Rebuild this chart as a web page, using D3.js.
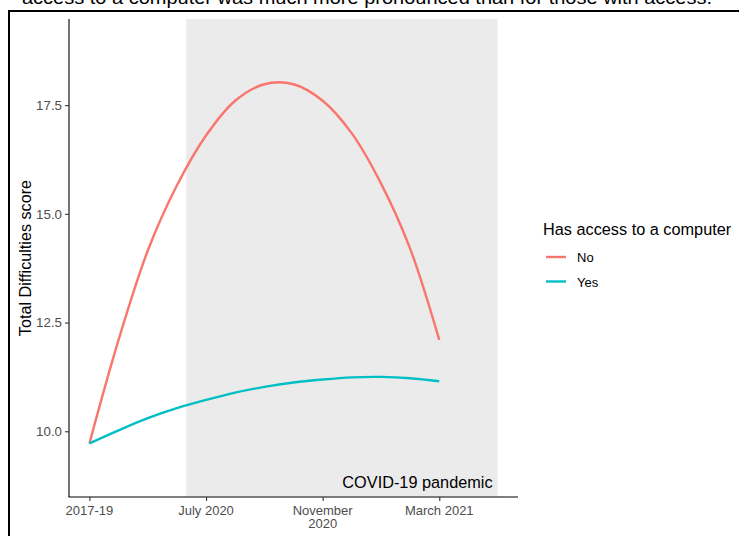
<!DOCTYPE html>
<html><head><meta charset="utf-8">
<script src="https://cdn.jsdelivr.net/npm/d3@7"></script>
<style>body{margin:0;background:#fff;} svg{display:block;font-family:"Liberation Sans",Arial,sans-serif;}</style>
</head><body>
<svg id="c" width="739" height="536"></svg>
<script>
const xPos = [0, 0.25, 0.5, 0.75, 1.0, 1.25, 1.5, 1.75, 2.0, 2.25, 2.5, 2.75, 3.0];
const seriesNo  = [9.72, 12.1, 14.15, 15.65, 16.8, 17.6, 17.98, 17.98, 17.6, 16.85, 15.7, 14.2, 12.1];
const seriesYes = [9.72, 10.02, 10.3, 10.53, 10.72, 10.89, 11.02, 11.12, 11.19, 11.24, 11.25, 11.22, 11.15];
const xTickVals = [0, 1, 2, 3];
const xTickLabels = [["2017-19"], ["July 2020"], ["November", "2020"], ["March 2021"]];
const yTickVals = [10.0, 12.5, 15.0, 17.5];
const pandemicRange = [0.83, 3.5];
const legendLabels = ["No", "Yes"];
const colors = ["#F8766D", "#00BFC4"];

const svg = d3.select("#c");
// caption cut off at top
svg.append("text").attr("x", 22).attr("y", 4).attr("font-size", 19)
  .attr("textLength", 690).attr("lengthAdjust", "spacingAndGlyphs").attr("fill", "#000")
  .text("access to a computer was much more pronounced than for those with access.");
// frame
svg.append("rect").attr("x", 9).attr("y", 11).attr("width", 740).attr("height", 540)
  .attr("fill", "none").attr("stroke", "#000").attr("stroke-width", 2);

const x = d3.scaleLinear().domain([-0.175, 3.675]).range([69, 518]);
const y = d3.scaleLinear().domain([8.5, 19.48]).range([496.5, 19]);

svg.append("rect").attr("x", x(pandemicRange[0])).attr("y", 19)
  .attr("width", x(pandemicRange[1]) - x(pandemicRange[0])).attr("height", 496.5 - 19)
  .attr("fill", "#ebebeb");

svg.append("text").attr("x", x(pandemicRange[1]) - 5).attr("y", 488).attr("text-anchor", "end")
  .attr("font-size", 16.3).attr("fill", "#000").text("COVID-19 pandemic");

const line = d3.line().x((d, i) => x(xPos[i])).y(d => y(d)).curve(d3.curveCatmullRom);
[seriesNo, seriesYes].forEach((s, k) => {
  svg.append("path").datum(s).attr("d", line).attr("fill", "none")
    .attr("stroke", colors[k]).attr("stroke-width", 2.4);
});

// axes
const yAxis = d3.axisLeft(y).tickValues(yTickVals).tickFormat(d3.format(".1f")).tickSize(4).tickPadding(3);
const gy = svg.append("g").attr("transform", "translate(69,0)").call(yAxis);
gy.select(".domain").attr("stroke", "#000").attr("stroke-width", 1.1).attr("d", "M0,19V497");
gy.selectAll(".tick line").attr("stroke", "#333").attr("stroke-width", 1.1);
gy.selectAll(".tick text").attr("fill", "#4d4d4d").attr("font-size", 13.3)
  .attr("font-family", "Liberation Sans, Arial, sans-serif");

const xAxis = d3.axisBottom(x).tickValues(xTickVals).tickFormat(() => "").tickSize(4);
const gx = svg.append("g").attr("transform", "translate(0,497)").call(xAxis);
gx.select(".domain").attr("stroke", "#000").attr("stroke-width", 1.1).attr("d", "M68.5,0H518");
gx.selectAll(".tick line").attr("stroke", "#333").attr("stroke-width", 1.1);
gx.selectAll(".tick text").remove();
xTickVals.forEach((v, i) => {
  const t = svg.append("text").attr("x", x(v)).attr("y", 514.5).attr("text-anchor", "middle")
    .attr("font-size", 13).attr("fill", "#4d4d4d");
  xTickLabels[i].forEach((l, j) => t.append("tspan").attr("x", x(v)).attr("dy", j ? 13.5 : 0).text(l));
});

svg.append("text").attr("transform", "translate(30.5,258) rotate(-90)").attr("text-anchor", "middle")
  .attr("font-size", 16.2).attr("fill", "#000").text("Total Difficulties score");

// legend
svg.append("text").attr("x", 543).attr("y", 235).attr("font-size", 16.3).attr("fill", "#000")
  .text("Has access to a computer");
legendLabels.forEach((l, i) => {
  const yy = 257 + i * 24.5;
  svg.append("line").attr("x1", 546).attr("x2", 566).attr("y1", yy).attr("y2", yy)
    .attr("stroke", colors[i]).attr("stroke-width", 2.4);
  svg.append("text").attr("x", 577).attr("y", yy + 5).attr("font-size", 13).attr("fill", "#000").text(l);
});
</script>
</body></html>
